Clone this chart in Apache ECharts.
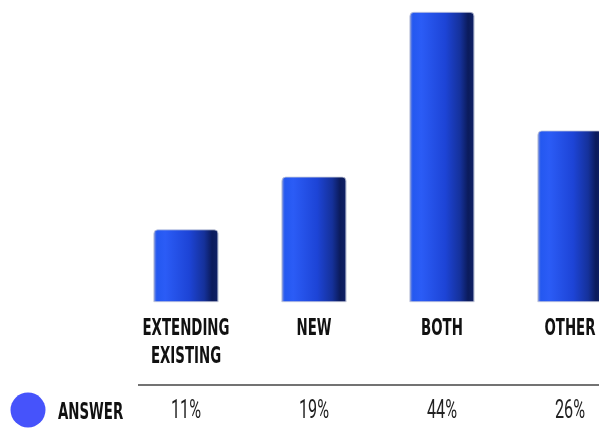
<!DOCTYPE html>
<html>
<head>
<meta charset="utf-8">
<script src="https://cdn.jsdelivr.net/npm/echarts@6/dist/echarts.min.js"></script>
<style>
html,body{margin:0;padding:0;background:#fff;overflow:hidden;}
#chart{width:599px;height:428px;}
</style>
</head>
<body>
<div id="chart"></div>
<script>
var categories = ['EXTENDING\nEXISTING', 'NEW', 'BOTH', 'OTHER'];
var values = [11, 19, 44, 26];
var seriesName = 'ANSWER';

var chart = echarts.init(document.getElementById('chart'));
var boldFamily = "'DejaVu Sans Condensed', 'DejaVu Sans', sans-serif";
var lightFamily = "Roboto, 'Liberation Sans', sans-serif";

function measure(text, font) {
  var c = document.createElement('canvas').getContext('2d');
  c.font = font;
  return c.measureText(text).width;
}
var boldFont = 'bold 23px ' + boldFamily;
var lightFont = '400 25px ' + lightFamily;
var boldScale = 87 / measure('EXTENDING', boldFont);
var lightScale = 30 / measure('11%', lightFont);

var barGradient = new echarts.graphic.LinearGradient(0, 0, 1, 0, [
  {offset: 0, color: '#8a9ad8'},
  {offset: 0.05, color: '#2458f0'},
  {offset: 0.18, color: '#2b5cf6'},
  {offset: 0.55, color: '#1d44d6'},
  {offset: 0.78, color: '#15319a'},
  {offset: 0.9, color: '#0b1b5c'},
  {offset: 0.97, color: '#0e1f62'},
  {offset: 1, color: '#9aa4c8'}
]);

chart.setOption({
  animation: false,
  grid: {left: 122, width: 512, top: 12, height: 290, containLabel: false, outerBoundsMode: 'none'},
  xAxis: {
    type: 'category',
    data: categories,
    axisLine: {show: false},
    axisTick: {show: false},
    axisLabel: {show: false}
  },
  yAxis: {
    type: 'value',
    min: 0,
    max: 44,
    show: false
  },
  series: [{
    name: seriesName,
    type: 'bar',
    barWidth: 65,
    data: values,
    itemStyle: {
      color: barGradient,
      borderRadius: [4, 4, 0, 0],
      borderColor: 'rgba(200,205,220,0.8)',
      borderWidth: 0.6
    }
  }]
});

var graphics = [
  {type: 'line', shape: {x1: 138, y1: 385, x2: 599, y2: 385}, style: {stroke: '#444', lineWidth: 1.5}},
  {type: 'circle', shape: {cx: 28, cy: 410, r: 17.5}, style: {fill: '#4653fb'}},
  {type: 'text', x: 58, y: 413, scaleX: boldScale, style: {text: seriesName, fill: '#111', font: boldFont, textAlign: 'left', textVerticalAlign: 'middle'}}
];
categories.forEach(function (cat, i) {
  var x = chart.convertToPixel({xAxisIndex: 0}, i);
  cat.split('\n').forEach(function (line, j) {
    graphics.push({type: 'text', x: x, y: 329 + j * 28, scaleX: boldScale,
      style: {text: line, fill: '#111', font: boldFont, textAlign: 'center', textVerticalAlign: 'middle'}});
  });
  graphics.push({type: 'text', x: x, y: 412, scaleX: lightScale,
    style: {text: values[i] + '%', fill: '#222', font: lightFont, textAlign: 'center', textVerticalAlign: 'middle'}});
});
chart.setOption({graphic: graphics});
</script>
</body>
</html>
